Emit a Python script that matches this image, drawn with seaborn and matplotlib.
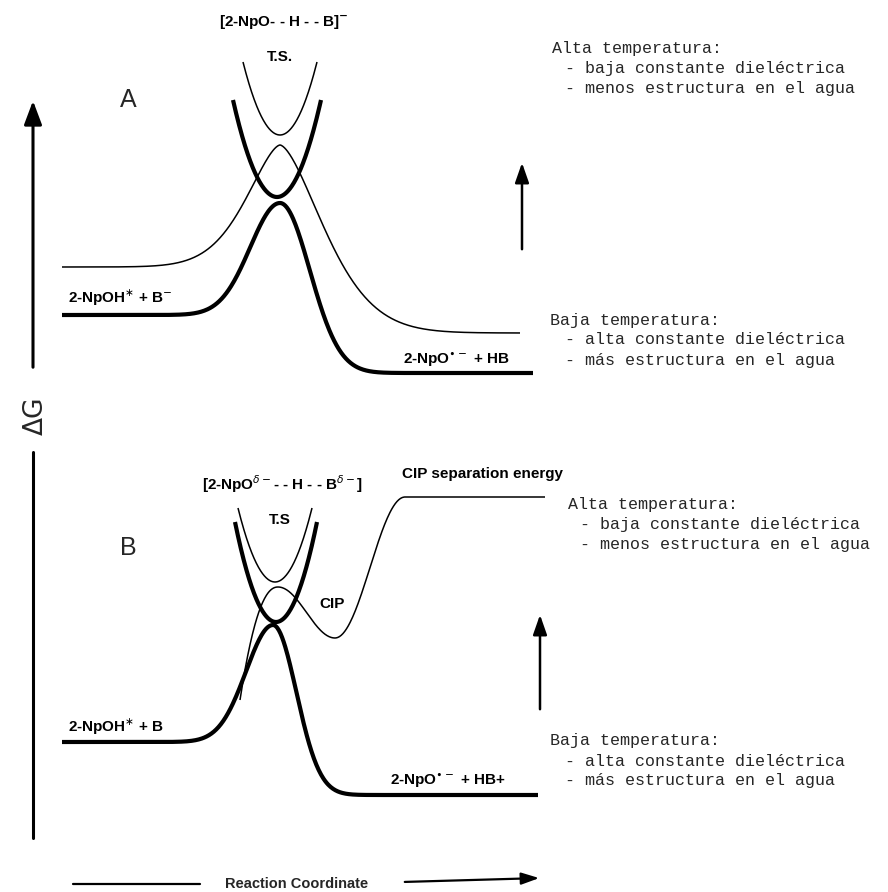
import numpy as np
import pandas as pd
import matplotlib
matplotlib.use("Agg")
import matplotlib.pyplot as plt
import seaborn as sns

sns.set_theme(style="white")
plt.rcParams["font.family"] = ["Liberation Sans", "DejaVu Sans"]

# Drawing area in pixel units; y grows downward (higher free energy = smaller y)
W, H = 888, 892

# ---- Panel A: proton transfer without ion pair ----
a_span = [62, 533]                 # x range of the low-temperature profile
a_thin_span = [62, 520]            # x range of the high-temperature profile
a_peak_x = 280
a_thick_levels = [315, 203, 373]   # reactants, T.S., products (low temperature)
a_thin_levels = [267, 145, 333]    # reactants, T.S., products (high temperature)
a_ts_thin = [280, 135, 243, 62]    # vertex x, vertex y, arm x, arm y
a_ts_thick = [277, 197, 233, 100]

# ---- Panel B: proton transfer through a contact ion pair ----
b_span = [62, 538]
b_peak_x = 273
b_thick_levels = [742, 625, 795]
b_cip_x = [240, 278, 335, 405, 545]   # start, T.S., CIP well, plateau start, end
b_cip_y = [700, 587, 638, 497, 497]
b_ts_thin = [275, 582, 238, 508]
b_ts_thick = [276, 622, 235, 522]

THICK, THIN = 3.0, 1.1


def barrier(x, xp, levels, wl, wr, p=2.0):
    left, peak, right = levels
    d = x - xp
    yl = left + (peak - left) * np.exp(-np.abs(d / wl) ** p)
    yr = right + (peak - right) * np.exp(-np.abs(d / wr) ** p)
    return np.where(d < 0, yl, yr)


def ease(x, x0, x1, y0, y1):
    t = np.clip((x - x0) / (x1 - x0), 0, 1)
    return y0 + (y1 - y0) * (1 - np.cos(np.pi * t)) / 2


def well(spec):
    vx, vy, ax_, ay = spec
    k = (vy - ay) / (ax_ - vx) ** 2
    x = np.linspace(ax_, 2 * vx - ax_, 200)
    return x, vy - k * (x - vx) ** 2


def draw(ax, x, y, lw):
    df = pd.DataFrame({"x": x, "y": y})
    sns.lineplot(data=df, x="x", y="y", ax=ax, sort=False, estimator=None,
                 color="black", linewidth=lw, solid_capstyle="butt")


fig = plt.figure(figsize=(W / 100, H / 100), dpi=100)
ax = fig.add_axes([0, 0, 1, 1])
ax.set_xlim(0, W)
ax.set_ylim(H, 0)
ax.axis("off")

# Panel A curves
x = np.linspace(*a_span, 600)
draw(ax, x, barrier(x, a_peak_x, a_thick_levels, 42, 42), THICK)
x = np.linspace(*a_thin_span, 600)
draw(ax, x, barrier(x, a_peak_x, a_thin_levels, 48, 62, 1.6), THIN)
draw(ax, *well(a_ts_thin), THIN)
draw(ax, *well(a_ts_thick), THICK)

# Panel B curves
x = np.linspace(*b_span, 600)
draw(ax, x, barrier(x, b_peak_x, b_thick_levels, 38, 33), THICK)
cx, cy = b_cip_x, b_cip_y
x1 = np.linspace(cx[0], cx[1], 80)
y1 = cy[1] + (cy[0] - cy[1]) * ((cx[1] - x1) / (cx[1] - cx[0])) ** 2.2
x2 = np.linspace(cx[1], cx[2], 80)
y2 = ease(x2, cx[1], cx[2], cy[1], cy[2])
x3 = np.linspace(cx[2], cx[3], 80)
y3 = ease(x3, cx[2], cx[3], cy[2], cy[3])
x4 = np.array([cx[3], cx[4]])
y4 = np.array([cy[3], cy[4]])
draw(ax, np.concatenate([x1, x2, x3, x4]), np.concatenate([y1, y2, y3, y4]), THIN)
draw(ax, *well(b_ts_thin), THIN)
draw(ax, *well(b_ts_thick), THICK)

# Free-energy axis
ax.annotate("", xy=(33, 98), xytext=(33, 370),
            arrowprops=dict(arrowstyle="-|>,head_length=1.2,head_width=0.45",
                            color="black", lw=2.2))
ax.plot([33, 33], [452, 838], color="black", lw=2.2)
ax.text(36, 416, "ΔG", rotation=90, ha="center", va="center",
        fontsize=19, family=["DejaVu Sans"])

# Reaction coordinate
ax.plot([73, 200], [884, 884], color="black", lw=1.6)
ax.text(297, 884, "Reaction Coordinate", ha="center", va="center",
        fontsize=10.5, fontweight="bold")
ax.annotate("", xy=(542, 878), xytext=(402, 882),
            arrowprops=dict(arrowstyle="-|>,head_length=0.9,head_width=0.3",
                            color="black", lw=1.6))

# Species labels
lab = dict(fontsize=11, fontweight="bold", color="black")
ax.text(128, 100, "A", fontsize=18, ha="center", va="center")
ax.text(128, 548, "B", fontsize=18, ha="center", va="center")
ax.text(284, 22, r"[2-NpO- - H - - B]$^{\mathbf{-}}$", ha="center", va="center", **lab)
ax.text(280, 57, "T.S.", ha="center", va="center", **lab)
ax.text(68, 298, r"2-NpOH$^{\ast}$ + B$^{-}$", ha="left", va="center", **lab)
ax.text(456, 360, r"2-NpO$^{\bullet-}$ + HB", ha="center", va="center", **lab)
ax.text(283, 484, r"[2-NpO$^{\delta-}$- - H - - B$^{\delta-}$]", ha="center", va="center", **lab)
ax.text(280, 520, "T.S", ha="center", va="center", **lab)
ax.text(402, 474, "CIP separation energy", ha="left", va="center", **lab)
ax.text(332, 604, "CIP", ha="center", va="center", **lab)
ax.text(68, 727, r"2-NpOH$^{\ast}$ + B", ha="left", va="center", **lab)
ax.text(448, 781, r"2-NpO$^{\bullet-}$ + HB+", ha="center", va="center", **lab)

# Temperature notes
mono = dict(fontsize=12, family=["Liberation Mono", "DejaVu Sans Mono"], va="center")
notes = [
    (552, 48, 565, ["Alta temperatura:", "- baja constante dieléctrica", "- menos estructura en el agua"]),
    (550, 320, 565, ["Baja temperatura:", "- alta constante dieléctrica", "- más estructura en el agua"]),
    (568, 505, 580, ["Alta temperatura:", "- baja constante dieléctrica", "- menos estructura en el agua"]),
    (550, 741, 565, ["Baja temperatura:", "- alta constante dieléctrica", "- más estructura en el agua"]),
]
for x0, y0, x1_, lines in notes:
    ax.text(x0, y0, lines[0], **mono)
    ax.text(x1_, y0 + 20, lines[1], **mono)
    ax.text(x1_, y0 + 40, lines[2], **mono)

for xa, y_from, y_to in [(522, 252, 160), (540, 712, 612)]:
    ax.annotate("", xy=(xa, y_to), xytext=(xa, y_from),
                arrowprops=dict(arrowstyle="-|>,head_length=1.0,head_width=0.35",
                                color="black", lw=1.8))

fig.savefig("out.png", dpi=100)
